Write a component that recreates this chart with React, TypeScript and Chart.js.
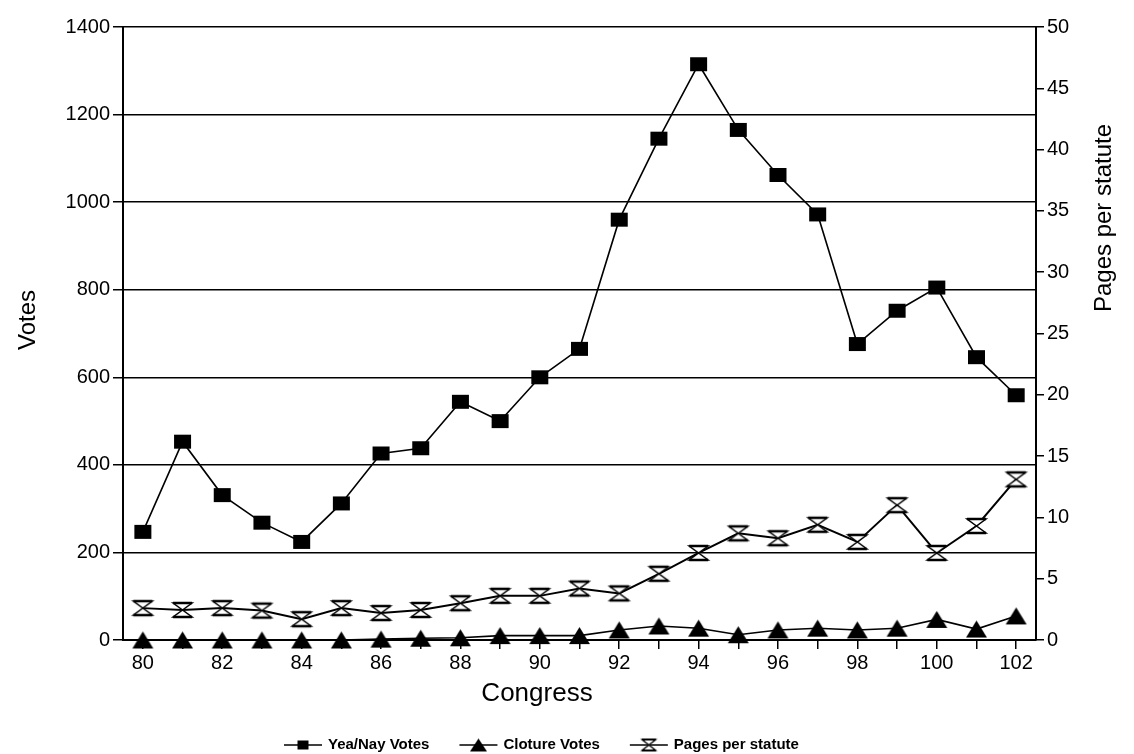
import React, { useEffect, useRef } from "react";
import { Chart, registerables } from "chart.js";

Chart.register(...registerables);

const congresses = ["80", "81", "82", "83", "84", "85", "86", "87", "88", "89", "90", "91", "92", "93", "94", "95", "96", "97", "98", "99", "100", "101", "102"];
const yeaNayVotes = [247, 453, 331, 268, 224, 312, 426, 438, 544, 500, 600, 665, 960, 1145, 1315, 1165, 1062, 972, 676, 752, 805, 646, 559];
const clotureVotes = [0, 0, 0, 0, 0, 0, 2, 4, 5, 10, 10, 10, 23, 32, 27, 12, 23, 27, 23, 27, 47, 25, 55];
const pagesPerStatute = [2.6, 2.45, 2.6, 2.4, 1.7, 2.6, 2.2, 2.45, 3.0, 3.6, 3.6, 4.2, 3.8, 5.4, 7.1, 8.7, 8.3, 9.4, 8.0, 11.0, 7.1, 9.3, 13.1];

const seriesLabels = ["Yea/Nay Votes", "Cloture Votes", "Pages per statute"];
const xTitle = "Congress";
const leftTitle = "Votes";
const rightTitle = "Pages per statute";
const votesMax = 1400;
const votesStep = 200;
const pagesMax = 50;
const pagesStep = 5;

const W = 1134;
const H = 754;
const FONT = "'Liberation Sans', Arial, Helvetica, sans-serif";

type Kind = "square" | "triangle" | "hourglass";

function makeMarker(kind: Kind, w: number, h: number, lw: number): HTMLCanvasElement {
  const pad = Math.ceil(lw) + 1;
  const c = document.createElement("canvas");
  c.width = w + pad * 2;
  c.height = h + pad * 2;
  const ctx = c.getContext("2d")!;
  ctx.translate(pad, pad);
  ctx.fillStyle = "#000";
  ctx.strokeStyle = "#000";
  ctx.lineWidth = lw;
  ctx.lineJoin = "miter";
  if (kind === "square") {
    ctx.fillRect(0, 0, w, h);
  } else if (kind === "triangle") {
    ctx.beginPath();
    ctx.moveTo(w / 2, 0);
    ctx.lineTo(w, h);
    ctx.lineTo(0, h);
    ctx.closePath();
    ctx.fill();
  } else {
    ctx.beginPath();
    ctx.moveTo(0, 0);
    ctx.lineTo(w, 0);
    ctx.lineTo(0, h);
    ctx.lineTo(w, h);
    ctx.closePath();
    ctx.fillStyle = "#fff";
    ctx.fill();
    ctx.stroke();
    ctx.lineWidth = lw + 0.8;
    ctx.beginPath();
    ctx.moveTo(0, 0);
    ctx.lineTo(w, 0);
    ctx.moveTo(0, h);
    ctx.lineTo(w, h);
    ctx.stroke();
  }
  return c;
}

export default function App() {
  const canvasRef = useRef<HTMLCanvasElement | null>(null);

  useEffect(() => {
    document.body.style.margin = "0";
    const canvas = canvasRef.current;
    if (!canvas) return;

    const squareImg = makeMarker("square", 17, 14, 1);
    const triangleImg = makeMarker("triangle", 21, 17, 1);
    const hourglassImg = makeMarker("hourglass", 19, 14, 1.5);
    const legendMarkers = [
      makeMarker("square", 11, 9, 1),
      makeMarker("triangle", 17, 13, 1),
      makeMarker("hourglass", 14, 11, 1.2),
    ];

    const customDraw = {
      id: "customDraw",
      afterDraw(chart: any) {
        const ctx: CanvasRenderingContext2D = chart.ctx;
        ctx.save();
        ctx.fillStyle = "#000";
        ctx.textAlign = "center";
        ctx.textBaseline = "middle";
        ctx.font = `24px ${FONT}`;
        ctx.save();
        ctx.translate(28, 320);
        ctx.rotate(-Math.PI / 2);
        ctx.fillText(leftTitle, 0, 0);
        ctx.restore();
        ctx.save();
        ctx.translate(1104, 218);
        ctx.rotate(-Math.PI / 2);
        ctx.fillText(rightTitle, 0, 0);
        ctx.restore();

        // x-axis title
        ctx.font = `26px ${FONT}`;
        ctx.fillText(xTitle, 537, 694);

        // legend
        ctx.font = `bold 15px ${FONT}`;
        ctx.textAlign = "left";
        const ly = 745;
        let x = 284;
        const symW = 38;
        seriesLabels.forEach((label, i) => {
          ctx.strokeStyle = "#000";
          ctx.lineWidth = 1.5;
          ctx.beginPath();
          ctx.moveTo(x, ly);
          ctx.lineTo(x + symW, ly);
          ctx.stroke();
          const m = legendMarkers[i];
          ctx.drawImage(m, x + symW / 2 - m.width / 2, ly - m.height / 2);
          ctx.fillText(label, x + symW + 6, ly);
          x += symW + 6 + ctx.measureText(label).width + 30;
        });
        ctx.restore();
      },
    };

    const chart = new Chart(canvas, {
      type: "line",
      data: {
        labels: congresses,
        datasets: [
          {
            label: seriesLabels[0],
            data: yeaNayVotes,
            yAxisID: "y",
            borderColor: "#000",
            backgroundColor: "#000",
            borderWidth: 1.6,
            pointStyle: squareImg as any,
            pointRadius: 8,
            tension: 0,
            clip: false as any,
          },
          {
            label: seriesLabels[1],
            data: clotureVotes,
            yAxisID: "y",
            borderColor: "#000",
            backgroundColor: "#000",
            borderWidth: 1.6,
            pointStyle: triangleImg as any,
            pointRadius: 8,
            tension: 0,
            clip: false as any,
          },
          {
            label: seriesLabels[2],
            data: pagesPerStatute,
            yAxisID: "y1",
            borderColor: "#000",
            backgroundColor: "#fff",
            borderWidth: 2,
            pointStyle: hourglassImg as any,
            pointRadius: 8,
            tension: 0,
            clip: false as any,
          },
        ],
      },
      options: {
        animation: false,
        responsive: false,
        maintainAspectRatio: false,
        events: [],
        layout: { padding: { top: 27, bottom: 54, left: 0, right: 0 } },
        plugins: {
          legend: { display: false },
          tooltip: { enabled: false },
          title: { display: false },
        },
        scales: {
          x: {
            type: "category",
            offset: true,
            grid: {
              display: true,
              offset: false,
              drawOnChartArea: false,
              drawTicks: true,
              tickLength: 9,
              color: "#000",
              lineWidth: 1.5,
            },
            border: { display: true, color: "#000", width: 2 },
            ticks: {
              autoSkip: false,
              maxRotation: 0,
              minRotation: 0,
              color: "#000",
              padding: 2,
              font: { family: FONT, size: 20 },
              callback: (_v: any, i: number) => (i % 2 === 0 ? congresses[i] : ""),
            },
            title: { display: false },
            afterFit: (s: any) => {
              s.height = 60;
            },
          },
          y: {
            position: "left",
            min: 0,
            max: votesMax,
            grid: {
              color: "#000",
              lineWidth: 1.5,
              tickLength: 10,
              drawTicks: true,
            },
            border: { display: true, color: "#000", width: 2 },
            ticks: {
              stepSize: votesStep,
              color: "#000",
              padding: 3,
              font: { family: FONT, size: 20 },
              callback: (v: any) => String(v),
            },
            afterFit: (s: any) => {
              s.width = 123;
            },
          },
          y1: {
            position: "right",
            min: 0,
            max: pagesMax,
            grid: {
              drawOnChartArea: false,
              color: "#000",
              lineWidth: 1.5,
              tickLength: 8,
              drawTicks: true,
            },
            border: { display: true, color: "#000", width: 2 },
            ticks: {
              stepSize: pagesStep,
              color: "#000",
              padding: 3,
              font: { family: FONT, size: 20 },
              callback: (v: any) => String(v),
            },
            afterFit: (s: any) => {
              s.width = W - 1036;
            },
          },
        },
      },
      plugins: [customDraw],
    });

    return () => {
      chart.destroy();
    };
  }, []);

  return (
    <div style={{ position: "absolute", left: 0, top: 0, width: W, height: H, background: "#fff" }}>
      <canvas ref={canvasRef} width={W} height={H} style={{ display: "block", width: W, height: H }} />
    </div>
  );
}
